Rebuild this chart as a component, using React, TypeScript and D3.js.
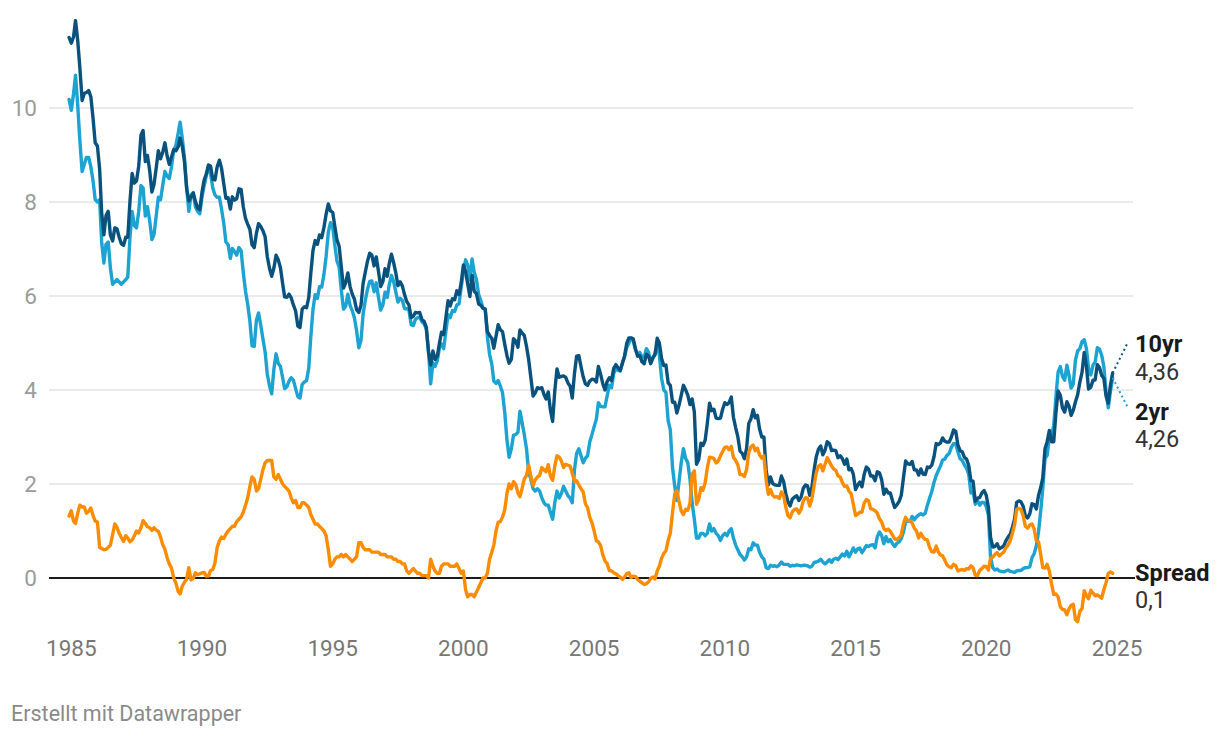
import React from "react";
import * as d3 from "d3";

// Monthly series, starting December 1984
const START_YEAR = 1984;
const START_MONTH = 11; // December (0-based)

const tenYear: number[] = [
  11.5,
  11.38, 11.51, 11.86, 11.43, 10.85, 10.16, 10.31, 10.33, 10.37, 10.24, 9.78, 9.26,
  9.19, 8.7, 7.78, 7.3, 7.71, 7.8, 7.3, 7.17, 7.45, 7.43, 7.25, 7.11,
  7.08, 7.25, 7.25, 8.02, 8.61, 8.4, 8.45, 8.76, 9.42, 9.52, 8.86, 8.99,
  8.67, 8.21, 8.37, 8.72, 9.09, 8.92, 9.06, 9.26, 8.98, 8.8, 8.96, 9.11,
  9.09, 9.17, 9.36, 9.18, 8.86, 8.28, 8.02, 8.11, 8.19, 8.01, 7.87, 7.84,
  8.21, 8.47, 8.59, 8.79, 8.76, 8.48, 8.47, 8.75, 8.89, 8.72, 8.39, 8.08,
  8.09, 7.85, 8.11, 8.04, 8.07, 8.28, 8.27, 7.9, 7.65, 7.53, 7.42, 7.09,
  7.03, 7.34, 7.54, 7.48, 7.39, 7.26, 6.84, 6.59, 6.42, 6.59, 6.87, 6.77,
  6.6, 6.26, 5.98, 5.97, 6.04, 5.96, 5.81, 5.68, 5.36, 5.33, 5.72, 5.77,
  5.75, 5.97, 6.48, 6.97, 7.18, 7.1, 7.3, 7.24, 7.46, 7.74, 7.96, 7.81,
  7.78, 7.47, 7.2, 7.06, 6.63, 6.17, 6.28, 6.49, 6.2, 6.04, 5.93, 5.71,
  5.65, 5.81, 6.27, 6.51, 6.74, 6.91, 6.87, 6.64, 6.83, 6.53, 6.2, 6.3,
  6.58, 6.42, 6.69, 6.89, 6.71, 6.49, 6.22, 6.3, 6.21, 6.03, 5.88, 5.81,
  5.54, 5.57, 5.65, 5.64, 5.65, 5.5, 5.46, 5.34, 4.81, 4.53, 4.83, 4.65,
  4.72, 5.0, 5.23, 5.18, 5.54, 5.9, 5.79, 5.94, 5.92, 6.11, 6.03, 6.28,
  6.66, 6.52, 6.26, 5.99, 6.44, 6.1, 6.05, 5.83, 5.8, 5.74, 5.72, 5.24,
  5.16, 5.1, 4.89, 5.14, 5.39, 5.28, 5.24, 4.97, 4.73, 4.57, 4.65, 5.09,
  5.04, 4.91, 5.28, 5.21, 5.16, 4.93, 4.65, 4.26, 3.87, 3.94, 4.05, 4.03,
  4.05, 3.9, 3.81, 3.96, 3.57, 3.33, 3.98, 4.45, 4.27, 4.29, 4.3, 4.27,
  4.15, 4.08, 3.83, 4.35, 4.72, 4.73, 4.5, 4.28, 4.13, 4.1, 4.19, 4.23,
  4.22, 4.17, 4.5, 4.34, 4.14, 4.0, 4.18, 4.26, 4.2, 4.46, 4.54, 4.47,
  4.42, 4.57, 4.72, 4.99, 5.11, 5.11, 5.09, 4.88, 4.72, 4.73, 4.6, 4.56,
  4.76, 4.72, 4.56, 4.69, 4.75, 5.1, 5.0, 4.67, 4.52, 4.53, 4.15, 4.1,
  3.74, 3.74, 3.51, 3.68, 3.88, 4.1, 4.01, 3.89, 3.69, 3.81, 3.53, 2.42,
  2.52, 2.87, 2.82, 2.93, 3.29, 3.72, 3.56, 3.59, 3.4, 3.39, 3.4, 3.59,
  3.73, 3.69, 3.73, 3.85, 3.42, 3.2, 3.01, 2.7, 2.65, 2.54, 2.76, 3.29,
  3.39, 3.58, 3.41, 3.46, 3.17, 3.0, 3.0, 2.3, 1.98, 2.15, 2.01, 1.98,
  1.97, 1.97, 2.17, 2.05, 1.8, 1.62, 1.53, 1.68, 1.72, 1.75, 1.65, 1.72,
  1.91, 1.98, 1.96, 1.76, 1.93, 2.3, 2.58, 2.74, 2.81, 2.62, 2.72, 2.9,
  2.86, 2.71, 2.72, 2.71, 2.56, 2.6, 2.54, 2.42, 2.53, 2.3, 2.33, 2.21,
  1.88, 1.98, 2.04, 1.94, 2.2, 2.36, 2.32, 2.17, 2.17, 2.07, 2.26, 2.24,
  2.09, 1.78, 1.89, 1.81, 1.81, 1.64, 1.5, 1.56, 1.63, 1.76, 2.14, 2.49,
  2.43, 2.42, 2.48, 2.3, 2.3, 2.19, 2.32, 2.21, 2.2, 2.36, 2.35, 2.4,
  2.58, 2.86, 2.84, 2.87, 2.98, 2.91, 2.89, 2.89, 3.0, 3.15, 3.12, 2.83,
  2.71, 2.68, 2.57, 2.53, 2.4, 2.07, 2.06, 1.63, 1.7, 1.71, 1.81, 1.86,
  1.76, 1.5, 0.87, 0.66, 0.67, 0.73, 0.62, 0.65, 0.68, 0.79, 0.87, 0.93,
  1.08, 1.26, 1.61, 1.64, 1.62, 1.52, 1.32, 1.28, 1.37, 1.58, 1.56, 1.47,
  1.76, 1.93, 2.13, 2.75, 2.9, 3.14, 2.9, 2.9, 3.52, 3.98, 3.89, 3.62,
  3.53, 3.75, 3.66, 3.46, 3.57, 3.75, 3.9, 4.17, 4.38, 4.8, 4.5, 4.02,
  4.06, 4.21, 4.21, 4.54, 4.48, 4.31, 4.25, 3.87, 3.72, 4.1, 4.36,
];

const twoYear: number[] = [
  10.18,
  9.95, 10.3, 10.7, 10.05, 9.3, 8.65, 8.8, 8.95, 8.95, 8.75, 8.45, 8.05,
  8.0, 8.05, 7.15, 6.7, 7.1, 7.15, 6.6, 6.25, 6.3, 6.35, 6.3, 6.25,
  6.3, 6.35, 6.4, 7.25, 7.8, 7.5, 7.45, 7.8, 8.35, 8.3, 7.7, 7.9,
  7.6, 7.2, 7.3, 7.7, 8.1, 8.05, 8.35, 8.65, 8.55, 8.5, 8.75, 9.1,
  9.2, 9.45, 9.7, 9.35, 8.95, 8.3, 7.8, 8.15, 8.2, 7.9, 7.8, 7.75,
  8.1, 8.35, 8.55, 8.75, 8.6, 8.3, 8.15, 8.1, 8.1, 7.85, 7.55, 7.15,
  7.09, 6.8, 7.01, 6.94, 6.87, 7.03, 6.97, 6.5, 6.1, 5.83, 5.47, 4.94,
  4.93, 5.49, 5.64, 5.38, 5.09, 4.81, 4.34, 4.09, 3.92, 4.44, 4.77, 4.57,
  4.5, 4.26, 4.03, 4.07, 4.19, 4.26, 4.21, 4.03, 3.86, 3.83, 4.12, 4.17,
  4.2, 4.47, 5.13, 5.72, 6.03, 5.95, 6.2, 6.19, 6.46, 6.84, 7.36, 7.56,
  7.48, 7.07, 6.75, 6.61, 6.13, 5.72, 5.78, 6.04, 5.8, 5.69, 5.53, 5.26,
  4.9, 5.06, 5.62, 5.91, 6.14, 6.31, 6.32, 6.09, 6.28, 5.98, 5.7, 5.8,
  6.08, 5.97, 6.24, 6.44, 6.31, 6.09, 5.87, 5.95, 5.91, 5.73, 5.73, 5.71,
  5.39, 5.37, 5.5, 5.54, 5.55, 5.45, 5.41, 5.29, 4.81, 4.13, 4.58, 4.5,
  4.62, 4.9, 4.98, 4.88, 5.24, 5.6, 5.54, 5.69, 5.67, 5.81, 5.83, 6.18,
  6.51, 6.77, 6.66, 6.34, 6.79, 6.5, 6.35, 6.03, 5.9, 5.74, 5.72, 5.14,
  4.76, 4.55, 4.19, 4.14, 4.2, 4.08, 3.94, 3.52, 2.93, 2.57, 2.75, 3.04,
  3.05, 3.1, 3.55, 3.3, 3.05, 2.75, 2.25, 2.1, 1.9, 1.85, 1.9, 1.85,
  1.7, 1.6, 1.55, 1.55, 1.4, 1.25, 1.6, 1.85, 1.7, 1.8, 1.95, 1.85,
  1.75, 1.7, 1.6, 2.3, 2.65, 2.75, 2.6, 2.45, 2.55, 2.6, 2.9, 3.05,
  3.22, 3.38, 3.73, 3.65, 3.64, 3.64, 3.87, 4.1, 4.05, 4.35, 4.45, 4.42,
  4.4, 4.6, 4.7, 4.9, 5.0, 5.1, 5.05, 4.85, 4.75, 4.8, 4.7, 4.7,
  4.88, 4.8, 4.57, 4.67, 4.77, 4.95, 4.75, 4.25, 4.0, 3.95, 3.35, 3.15,
  2.35, 1.95, 1.65, 2.05, 2.45, 2.75, 2.55, 2.45, 2.1, 1.6, 1.25, 0.85,
  0.85, 0.95, 0.95, 0.9, 0.95, 1.15, 1.0, 1.05, 0.95, 0.9, 0.8, 0.9,
  0.95, 0.9, 1.0, 1.05, 0.85, 0.7, 0.6, 0.5, 0.45, 0.38, 0.45, 0.62,
  0.6, 0.75, 0.7, 0.7, 0.55, 0.45, 0.4, 0.22, 0.2, 0.27, 0.25, 0.26,
  0.24, 0.28, 0.34, 0.29, 0.29, 0.29, 0.25, 0.27, 0.26, 0.28, 0.27, 0.26,
  0.27, 0.27, 0.26, 0.23, 0.25, 0.33, 0.34, 0.36, 0.4, 0.34, 0.3, 0.34,
  0.39, 0.33, 0.4, 0.42, 0.39, 0.45, 0.51, 0.47, 0.57, 0.45, 0.54, 0.64,
  0.55, 0.62, 0.64, 0.54, 0.61, 0.69, 0.67, 0.7, 0.71, 0.64, 0.88, 0.98,
  0.9, 0.73, 0.88, 0.77, 0.82, 0.73, 0.67, 0.74, 0.77, 0.84, 0.98, 1.2,
  1.21, 1.2, 1.31, 1.24, 1.3, 1.34, 1.37, 1.34, 1.38, 1.55, 1.7, 1.84,
  2.03, 2.18, 2.28, 2.38, 2.51, 2.53, 2.61, 2.65, 2.78, 2.86, 2.86, 2.68,
  2.54, 2.5, 2.41, 2.33, 2.21, 1.81, 1.84, 1.57, 1.65, 1.55, 1.61, 1.61,
  1.52, 1.33, 0.45, 0.22, 0.17, 0.19, 0.15, 0.14, 0.13, 0.15, 0.17, 0.14,
  0.13, 0.12, 0.15, 0.16, 0.16, 0.2, 0.22, 0.22, 0.24, 0.43, 0.52, 0.68,
  0.99, 1.44, 1.91, 2.54, 2.61, 2.99, 3.02, 3.25, 3.86, 4.38, 4.5, 4.29,
  4.21, 4.53, 4.32, 4.04, 4.13, 4.64, 4.83, 4.88, 5.03, 5.07, 4.88, 4.46,
  4.32, 4.53, 4.59, 4.9, 4.87, 4.74, 4.5, 3.97, 3.62, 3.97, 4.26,
];

const spread: number[] = [
  1.32,
  1.43, 1.21, 1.16, 1.38, 1.55, 1.51, 1.51, 1.38, 1.42, 1.49, 1.33, 1.21,
  1.19, 0.65, 0.63, 0.6, 0.61, 0.65, 0.7, 0.92, 1.15, 1.08, 0.95, 0.86,
  0.78, 0.9, 0.85, 0.77, 0.81, 0.9, 1.0, 0.96, 1.07, 1.22, 1.16, 1.09,
  1.07, 1.01, 1.07, 1.02, 0.99, 0.87, 0.71, 0.61, 0.43, 0.3, 0.21, 0.01,
  -0.11, -0.28, -0.34, -0.17, -0.09, -0.02, 0.22, -0.04, -0.01, 0.11, 0.07, 0.09,
  0.11, 0.12, 0.04, 0.04, 0.16, 0.18, 0.32, 0.65, 0.79, 0.87, 0.84, 0.93,
  1.0, 1.05, 1.1, 1.1, 1.2, 1.25, 1.3, 1.4, 1.55, 1.7, 1.95, 2.15,
  2.1, 1.85, 1.9, 2.1, 2.3, 2.45, 2.5, 2.5, 2.5, 2.15, 2.1, 2.2,
  2.1, 2.0, 1.95, 1.9, 1.85, 1.7, 1.6, 1.65, 1.5, 1.5, 1.6, 1.6,
  1.55, 1.5, 1.35, 1.25, 1.15, 1.15, 1.1, 1.05, 1.0, 0.9, 0.6, 0.25,
  0.3, 0.4, 0.45, 0.45, 0.5, 0.45, 0.5, 0.45, 0.4, 0.35, 0.4, 0.45,
  0.75, 0.75, 0.65, 0.6, 0.6, 0.6, 0.55, 0.55, 0.55, 0.55, 0.5, 0.5,
  0.5, 0.45, 0.45, 0.45, 0.4, 0.4, 0.35, 0.35, 0.3, 0.3, 0.15, 0.1,
  0.15, 0.2, 0.15, 0.1, 0.1, 0.05, 0.05, 0.05, 0.0, 0.4, 0.25, 0.15,
  0.1, 0.1, 0.25, 0.3, 0.3, 0.3, 0.25, 0.25, 0.25, 0.3, 0.2, 0.1,
  0.15, -0.25, -0.4, -0.35, -0.35, -0.4, -0.3, -0.2, -0.1, 0.0, 0.0, 0.1,
  0.4, 0.55, 0.7, 1.0, 1.19, 1.2, 1.3, 1.45, 1.8, 2.0, 1.9, 2.05,
  1.99, 1.81, 1.73, 1.91, 2.11, 2.18, 2.4, 2.16, 1.97, 2.09, 2.15, 2.18,
  2.35, 2.3, 2.26, 2.41, 2.17, 2.08, 2.38, 2.6, 2.57, 2.49, 2.35, 2.42,
  2.4, 2.38, 2.23, 2.05, 2.07, 1.98, 1.9, 1.83, 1.58, 1.5, 1.29, 1.18,
  1.0, 0.79, 0.77, 0.69, 0.5, 0.36, 0.31, 0.16, 0.15, 0.11, 0.09, 0.05,
  0.02, -0.03, 0.02, 0.09, 0.11, 0.01, 0.04, 0.03, -0.03, -0.07, -0.1, -0.14,
  -0.12, -0.08, -0.01, 0.02, -0.02, 0.15, 0.25, 0.42, 0.52, 0.58, 0.8, 0.95,
  1.39, 1.79, 1.86, 1.63, 1.43, 1.35, 1.46, 1.44, 1.59, 2.21, 2.28, 1.57,
  1.67, 1.92, 1.87, 2.03, 2.34, 2.57, 2.56, 2.54, 2.45, 2.49, 2.6, 2.69,
  2.78, 2.79, 2.73, 2.8, 2.57, 2.5, 2.41, 2.2, 2.2, 2.16, 2.31, 2.67,
  2.79, 2.83, 2.71, 2.76, 2.62, 2.55, 2.6, 2.08, 1.78, 1.88, 1.76, 1.72,
  1.73, 1.69, 1.83, 1.76, 1.51, 1.33, 1.28, 1.41, 1.46, 1.47, 1.38, 1.46,
  1.64, 1.71, 1.7, 1.53, 1.68, 1.97, 2.24, 2.38, 2.41, 2.28, 2.42, 2.56,
  2.47, 2.38, 2.32, 2.29, 2.17, 2.15, 2.03, 1.95, 1.96, 1.85, 1.79, 1.57,
  1.33, 1.36, 1.4, 1.4, 1.59, 1.67, 1.65, 1.47, 1.46, 1.43, 1.38, 1.26,
  1.19, 1.05, 1.01, 1.04, 0.99, 0.91, 0.83, 0.82, 0.86, 0.92, 1.16, 1.29,
  1.22, 1.22, 1.17, 1.06, 1.0, 0.85, 0.95, 0.87, 0.82, 0.81, 0.65, 0.56,
  0.55, 0.68, 0.56, 0.49, 0.47, 0.38, 0.28, 0.24, 0.22, 0.29, 0.26, 0.15,
  0.17, 0.18, 0.16, 0.2, 0.19, 0.26, 0.22, 0.06, 0.05, 0.16, 0.2, 0.25,
  0.24, 0.17, 0.42, 0.44, 0.5, 0.54, 0.47, 0.51, 0.55, 0.64, 0.7, 0.79,
  0.95, 1.14, 1.46, 1.48, 1.46, 1.32, 1.1, 1.06, 1.13, 1.15, 1.04, 0.79,
  0.77, 0.49, 0.22, 0.21, 0.29, 0.15, -0.12, -0.35, -0.34, -0.4, -0.61, -0.67,
  -0.68, -0.78, -0.66, -0.58, -0.56, -0.89, -0.93, -0.71, -0.65, -0.27, -0.38, -0.44,
  -0.26, -0.32, -0.38, -0.36, -0.39, -0.43, -0.25, -0.1, 0.1, 0.13, 0.1,
];

const yTicks = [0, 2, 4, 6, 8, 10];
const xTickYears = [1985, 1990, 1995, 2000, 2005, 2010, 2015, 2020, 2025];
const footerText = "Erstellt mit Datawrapper";

const COLOR_10 = "#0a527e";
const COLOR_2 = "#1ca3d1";
const COLOR_SPREAD = "#fb8c00";

export default function App() {
  const width = 1220;
  const height = 738;
  const font = "Roboto, 'Noto Sans', sans-serif";

  const x = d3
    .scaleUtc()
    .domain([new Date(Date.UTC(1985, 0, 1)), new Date(Date.UTC(2025, 0, 1))])
    .range([71.3, 1117]);
  const y = d3.scaleLinear().domain([0, 10]).range([578, 108]);

  const dates = tenYear.map((_, i) => new Date(Date.UTC(START_YEAR, START_MONTH + i, 1)));
  const line = d3
    .line<number>()
    .x((_, i) => x(dates[i]))
    .y((d) => y(d));

  const gridX0 = 49;
  const gridX1 = 1133;
  const last = tenYear.length - 1;
  const endX = x(dates[last]);
  const labelX = 1135;

  const y10 = y(tenYear[last]);
  const y2 = y(twoYear[last]);
  const ySp = y(spread[last]);
  const lw = 3.4;

  return (
    <svg
      width={width}
      height={height}
      style={{ position: "absolute", left: 0, top: 0, background: "#fff" }}
      fontFamily={font}
    >
      {yTicks
        .filter((t) => t !== 0)
        .map((t) => (
          <line key={t} x1={gridX0} x2={gridX1} y1={y(t)} y2={y(t)} stroke="#e3e3e3" strokeWidth={1.5} />
        ))}
      {yTicks.map((t) => (
        <text
          key={"yl" + t}
          x={37}
          y={y(t)}
          dy="0.35em"
          textAnchor="end"
          fontSize={22.5}
          fill="#9b9b9b"
        >
          {t}
        </text>
      ))}
      {xTickYears.map((yr) => (
        <text
          key={"xl" + yr}
          x={x(new Date(Date.UTC(yr, 0, 1)))}
          y={656}
          textAnchor="middle"
          fontSize={22.5}
          fill="#777"
        >
          {yr}
        </text>
      ))}
      <line x1={gridX0} x2={labelX} y1={y(0)} y2={y(0)} stroke="#1a1a1a" strokeWidth={2} />

      <path d={line(twoYear) || ""} fill="none" stroke={COLOR_2} strokeWidth={lw} strokeLinejoin="round" strokeLinecap="round" />
      <path d={line(tenYear) || ""} fill="none" stroke={COLOR_10} strokeWidth={lw} strokeLinejoin="round" strokeLinecap="round" />
      <path d={line(spread) || ""} fill="none" stroke={COLOR_SPREAD} strokeWidth={lw} strokeLinejoin="round" strokeLinecap="round" />

      <line x1={endX} y1={y10} x2={1128} y2={342} stroke={COLOR_10} strokeWidth={2} strokeDasharray="2,3" />
      <line x1={endX} y1={y2} x2={1128} y2={408} stroke={COLOR_2} strokeWidth={2} strokeDasharray="2,3" />

      <text x={labelX} y={y10 - 21} fontSize={23.5} fontWeight={700} fill="#1a1a1a">10yr</text>
      <text x={labelX} y={y10 + 7} fontSize={23.5} fill="#333">4,36</text>
      <text x={labelX} y={y2 + 42} fontSize={23.5} fontWeight={700} fill="#1a1a1a">2yr</text>
      <text x={labelX} y={y2 + 69} fontSize={23.5} fill="#333">4,26</text>
      <text x={labelX} y={ySp + 8} fontSize={23.5} fontWeight={700} fill="#1a1a1a">Spread</text>
      <text x={labelX} y={ySp + 35} fontSize={23.5} fill="#333">0,1</text>

      <text x={11} y={721} fontSize={21.5} fill="#8a8a8a">{footerText}</text>
    </svg>
  );
}
